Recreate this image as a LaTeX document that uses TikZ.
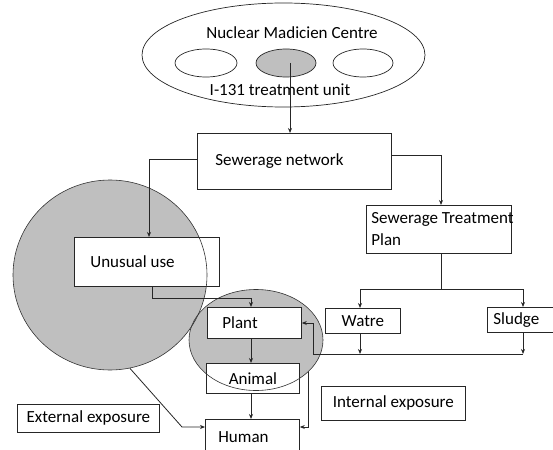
\documentclass[tikz,border=0pt]{standalone}
\usepackage{fontspec}
\setmainfont{Carlito}
\usetikzlibrary{arrows.meta,calc,shapes.geometric}
\begin{document}
\begin{tikzpicture}[x=1pt,y=-1pt,
  font=\fontsize{17}{22}\selectfont,
  ln/.style={line width=0.8pt, draw=black!85},
  arr/.style={ln, -{Stealth[length=5pt,width=4pt]}},
  box/.style={rectangle, draw=black!85, line width=0.8pt, fill=white, anchor=north west, inner ysep=0pt},
  blob/.style={ellipse, fill=black!25, inner sep=0pt},
  oval/.style={ellipse, draw=black!85, line width=0.7pt, inner sep=0pt},
  outl/.style={draw=black!80, line width=0.6pt}
]
\useasboundingbox (0,0) rectangle (553,449);

% Nuclear medicine centre
\node[oval, minimum width=283pt, minimum height=104pt] (nmc) at (283.5,55) {};
\node[oval, minimum width=62pt, minimum height=28pt] (e1) at (206,63) {};
\node[oval, fill=black!25, minimum width=60pt, minimum height=28pt] (e2) at (286,63) {};
\node[oval, minimum width=60pt, minimum height=28pt] (e3) at (363,63) {};
\node (t1) at (292,33) {Nuclear Madicien Centre};
\node (t2) at (280,90) {I-131 treatment unit};

% gray exposure areas
\node[blob, minimum width=194pt, minimum height=190pt] (bigc) at (110,275) {};
\node[blob, minimum width=134pt, minimum height=101pt] (smc) at (256,340) {};

% boxes
\node[box, minimum height=56pt, text width=158pt, inner xsep=18pt, align=flush left] (sn) at (197,133) {Sewerage network};
\node[box, minimum height=49pt, text width=113pt, inner xsep=16pt, align=flush left] (uu) at (74,237) {Unusual use};
\node[box, minimum height=48pt, text width=135pt, inner xsep=5pt, align=flush left] (stp) at (366,205) {\mbox{Sewerage Treatment}\\Plan};
\node[box, minimum width=75pt, minimum height=25pt, inner xsep=0pt] (wat) at (325,308) {Watre};
\node[box, minimum height=25pt, text width=54pt, inner xsep=6pt, align=flush left] (sl) at (487,307) {Sludge};
\node[box, minimum height=31pt, text width=64pt, inner xsep=15pt, align=flush left] (pl) at (207,307) {Plant};
\node[box, minimum width=93pt, minimum height=30pt, inner xsep=0pt] (an) at (206,363) {Animal};
\node[box, minimum height=36pt, text width=68pt, inner xsep=13pt, align=flush left] (hu) at (205,419) {Human};
\node[box, minimum width=142pt, minimum height=28pt, inner xsep=0pt] (ext) at (17,404) {External exposure};
\node[box, minimum width=144pt, minimum height=34pt, inner xsep=0pt] (int) at (321,386) {Internal exposure};

% outlines of gray areas (visible over boxes)
\draw[outl] (bigc.center) ellipse [x radius=97, y radius=95];
\draw[outl] (smc.center) ellipse [x radius=67, y radius=50.5];

% connectors
\draw[arr] ([xshift=4pt]e2.center) -- ([xshift=4pt]e2.center |- sn.north);
\coordinate (c1) at (149,159);
\draw[arr] (sn.west |- c1) -- (c1) -- (c1 |- uu.north);
\coordinate (c2) at (441,155);
\draw[arr] (sn.east |- c2) -- (c2) -- (c2 |- stp.north);
\coordinate (j1) at (441,289);
\coordinate (j2) at (360,289);
\coordinate (j3) at (523,289);
\draw[ln] (stp.south -| j1) -- (j1);
\draw[ln] (j2) -- (j3);
\draw[arr] (j2) -- (j2 |- wat.north);
\draw[arr] (j3) -- (j3 |- sl.north);
\coordinate (k1) at (313,354);
\coordinate (k2) at (523,354);
\coordinate (k3) at (360,354);
\coordinate (k4) at (313,323);
\draw[arr] (wat.south -| k3) -- (k3);
\draw[arr] (sl.south -| k2) -- (k2);
\draw[ln] (k2) -- (k1);
\draw[arr] (k1) -- (k4) -- (k4 -| pl.east);
\coordinate (u1) at (152,298);
\coordinate (u2) at (251,298);
\draw[arr] (uu.south -| u1) -- (u1) -- (u2) -- (u2 |- pl.north);
\draw[arr] (pl.south -| u2) -- (an.north -| u2);
\draw[arr] (an.south -| u2) -- (hu.north -| u2);
\coordinate (h1) at (308,372);
\coordinate (h2) at (308,427);
\draw[arr] (h1) -- (h2) -- (h2 -| hu.east);
\coordinate (h3) at (182,427);
\draw[arr] (bigc.-78) -- (h3) -- (h3 -| hu.west);
\end{tikzpicture}
\end{document}
